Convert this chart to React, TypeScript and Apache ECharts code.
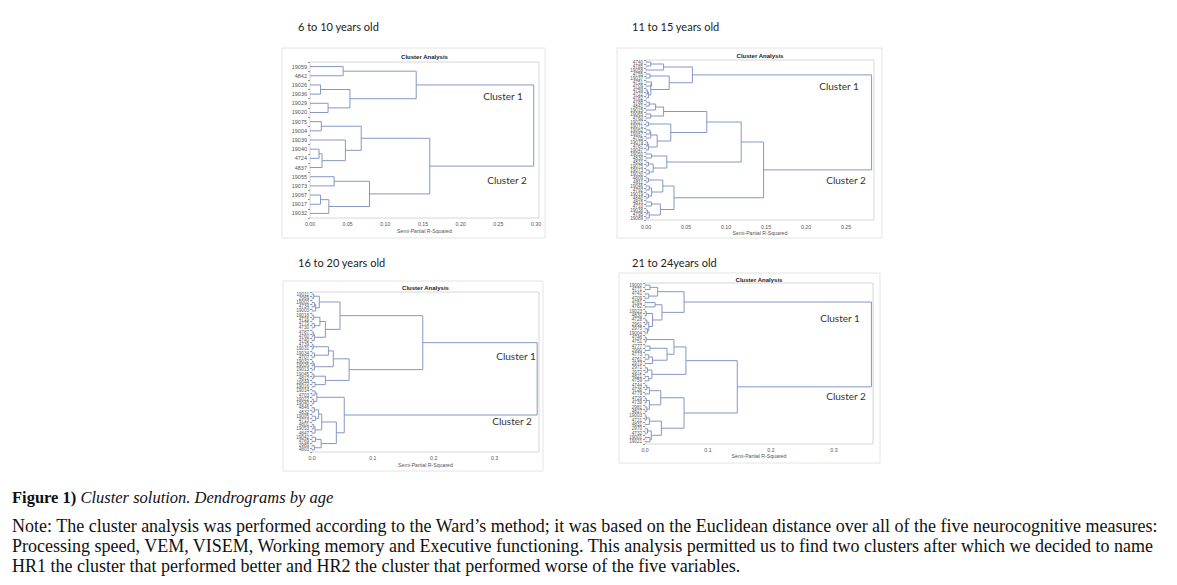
import React, { useEffect, useRef } from 'react';
import * as echarts from 'echarts';

type Node = [Node | number, Node | number, number];

// ---------- DATA ----------
const panelTitles = ['6 to 10 years old', '11 to 15 years old', '16 to 20 years old', '21 to 24years old'];
const chartTitle = 'Cluster Analysis';
const xAxisName = 'Semi-Partial R-Squared';
const clusterNames = ['Cluster 1', 'Cluster 2'];

const leaves1 = ['19059', '4842', '19026', '19036', '19029', '19020', '19075', '19004', '19039', '19040', '4724', '4837', '19055', '19073', '19067', '19017', '19032'];
const tree1: Node = [
  [[0, 1, 0.044], [[2, 3, 0.014], [4, 5, 0.024], 0.053], 0.141],
  [
    [[6, 7, 0.015], [8, [[9, 10, 0.012], 11, 0.016], 0.047], 0.068],
    [[12, 13, 0.032], [[14, 15, 0.014], 16, 0.025], 0.079],
    0.159,
  ],
  0.297,
];

const leaves2 = ['4740', '4785', '19058', '4755', '19037', '4751', '4709', '4759', '4722', '4782', '4788', '4841', '19015', '19065', '4760', '19027', '19071', '19062', '19067', '4705', '19079', '4787', '19047', '19050', '4830', '4831', '19075', '19073', '19030', '4809', '4811', '19046', '4792', '19019', '4840', '4815', '4710', '19038', '4795', '19089'];
const tree2: Node = [
  [[[0, 1, 0.006], 2, 0.022], [[3, 4, 0.005], [[5, 6, 0.007], [[7, 8, 0.002], 9, 0.003], 0.006], 0.029], 0.058],
  [
    [
      [
        [[[10, 11, 0.004], 12, 0.012], [13, 14, 0.006], 0.022],
        [[15, 16, 0.003], [[[17, 18, 0.005], 19, 0.006], [[20, 21, 0.002], 22, 0.003], 0.014], 0.031],
        0.076,
      ],
      [[23, 24, 0.007], [[25, 26, 0.003], [27, 28, 0.004], 0.009], 0.026],
      0.119,
    ],
    [
      [[29, 30, 0.003], [[31, 32, 0.004], [33, 34, 0.003], 0.007], 0.021],
      [[35, 36, 0.007], [[37, 38, 0.002], 39, 0.004], 0.018],
      0.035,
    ],
    0.147,
  ],
  0.282,
];

const leaves3 = ['19011', '2969', '19002', '4734', '19003', '19018', '4716', '4775', '4730', '4787', '4760', '4740', '4739', '19031', '19034', '4707', '19032', '19026', '19013', '19045', '4812', '19044', '19016', '19014', '4703', '19022', '19040', '4846', '4832', '19005', '4713', '4801', '19053', '4847', '19042', '4769', '2989', '4803'];
const tree3: Node = [
  [
    [
      [[0, 1, 0.003], [[2, 3, 0.004], 4, 0.006], 0.012],
      [[[5, 6, 0.003], [7, 8, 0.004], 0.013], [[9, 10, 0.002], 11, 0.004], 0.022],
      0.046,
    ],
    [
      [[[12, 13, 0.002], [14, 15, 0.004], 0.027], [[16, 17, 0.002], 18, 0.004], 0.035],
      [[19, 20, 0.003], [21, 22, 0.005], 0.022],
      0.061,
    ],
    0.182,
  ],
  [
    [[23, 24, 0.005], [25, 26, 0.003], 0.008],
    [
      [[[27, 28, 0.004], [29, 30, 0.006], 0.011], [[31, 32, 0.003], 33, 0.005], 0.016],
      [[34, 35, 0.006], [36, 37, 0.004], 0.015],
      0.04,
    ],
    0.053,
  ],
  0.37,
];

const leaves4 = ['19000', '4771', '4741', '4709', '4781', '4762', '19023', '4830', '4728', '2961', '2975', '19004', '4746', '4751', '4777', '2990', '4773', '4761', '2973', '2971', '2972', '4821', '4759', '4744', '4736', '4779', '4729', '4739', '2981', '4827', '19003', '4721', '4831', '2970', '4732', '19001', '19021'];
const tree4: Node = [
  [
    [[0, 1, 0.008], [2, 3, 0.006], 0.02],
    [[4, 5, 0.016], [[6, 7, 0.002], [[8, 9, 0.003], [10, 11, 0.004], 0.006], 0.012], 0.027],
    0.062,
  ],
  [
    [
      [[12, 13, 0.002], [[14, 15, 0.008], [[16, 17, 0.006], 18, 0.012], 0.035], 0.046],
      [[19, 20, 0.004], [21, 22, 0.006], 0.011],
      0.065,
    ],
    [
      [[[23, 24, 0.003], 25, 0.007], [[26, 27, 0.002], [28, 29, 0.003], 0.007], 0.025],
      [[[30, 31, 0.002], 32, 0.007], [[33, 34, 0.004], [35, 36, 0.008], 0.01], 0.026],
      0.062,
    ],
    0.1465,
  ],
  0.3595,
];

const xMaxes = [0.304, 0.285, 0.373, 0.362];
const xSteps = [0.05, 0.05, 0.1, 0.1];
const xDecimals = [2, 2, 1, 1];

const captionLabel = 'Figure 1)';
const captionText = ' Cluster solution. Dendrograms by age';
const noteLines = [
  'Note: The cluster analysis was performed according to the Ward\u2019s method; it was based on the Euclidean distance over all of the five neurocognitive measures:',
  'Processing speed, VEM, VISEM, Working memory and Executive functioning. This analysis permitted us to find two clusters after which we decided to name',
  'HR1 the cluster that performed better and HR2 the cluster that performed worse of the five variables.',
];

// ---------- LAYOUT ----------
const panels = [
  { leaves: leaves1, tree: tree1, grid: { left: 310, top: 62, width: 229, height: 156 }, frame: [282, 48, 263, 190], titlePos: [298, 26], caTitleY: 57, labelSize: 5.5, labelMargin: 3, nameGap: 10, cl: [[503, 96], [507, 180]] },
  { leaves: leaves2, tree: tree2, grid: { left: 646, top: 60, width: 228, height: 160 }, frame: [617, 48, 265, 190], titlePos: [632, 26], caTitleY: 56, labelSize: 4.6, labelMargin: 4, nameGap: 10, cl: [[839, 86], [846, 180]] },
  { leaves: leaves3, tree: tree3, grid: { left: 312, top: 292, width: 227, height: 160 }, frame: [283, 281, 260, 190], titlePos: [298, 262], caTitleY: 288, labelSize: 4.6, labelMargin: 3, nameGap: 10, cl: [[516, 356], [512, 421]] },
  { leaves: leaves4, tree: tree4, grid: { left: 645, top: 283, width: 228, height: 161 }, frame: [619, 273, 261, 190], titlePos: [632, 262], caTitleY: 280, labelSize: 4.6, labelMargin: 3, nameGap: 9, cl: [[840, 318], [846, 396]] },
];

const LINE = '#8497c4';

function flatten(tree: Node): number[][] {
  const segs: number[][] = [];
  const walk = (n: Node | number): [number, number] => {
    if (typeof n === 'number') return [0, n];
    const a = walk(n[0]);
    const b = walk(n[1]);
    segs.push([a[0], a[1], b[0], b[1], n[2]]);
    return [n[2], (a[1] + b[1]) / 2];
  };
  walk(tree);
  return segs;
}

export default function App() {
  const ref = useRef<HTMLDivElement>(null);
  useEffect(() => {
    if (!ref.current) return;
    const chart = echarts.init(ref.current, undefined, { renderer: 'svg' });
    const grid: any[] = [];
    const xAxis: any[] = [];
    const yAxis: any[] = [];
    const series: any[] = [];
    const graphic: any[] = [];

    panels.forEach((p, i) => {
      grid.push({ ...p.grid, show: true, borderColor: '#d6d6d6', borderWidth: 1, backgroundColor: 'transparent' });
      const step = xSteps[i];
      const dec = xDecimals[i];
      xAxis.push({
        type: 'value', gridIndex: i, min: 0, max: xMaxes[i], interval: step,
        splitLine: { show: false }, axisLine: { show: false }, axisTick: { show: false },
        axisLabel: {
          fontSize: 5.2, color: '#555', margin: p.labelMargin,
          formatter: (v: number) => { const k = v / step; return Math.abs(k - Math.round(k)) < 1e-6 ? v.toFixed(dec) : ''; },
        },
        name: xAxisName, nameLocation: 'middle', nameGap: p.nameGap,
        nameTextStyle: { fontSize: 5.2, color: '#555' },
      });
      yAxis.push({
        type: 'category', gridIndex: i, data: p.leaves, inverse: true, boundaryGap: true,
        axisLine: { show: false },
        axisTick: { show: true, length: 2, lineStyle: { color: '#999' } },
        axisLabel: { interval: 0, fontSize: p.labelSize, color: '#555', margin: 3 },
        splitLine: { show: false },
      });
      yAxis.push({
        type: 'value', gridIndex: i, show: false, inverse: true,
        min: -0.5, max: p.leaves.length - 0.5, splitLine: { show: false },
      });
      series.push({
        type: 'custom', xAxisIndex: i, yAxisIndex: 2 * i + 1,
        data: flatten(p.tree),
        encode: { x: [0, 2, 4], y: [1, 3] },
        renderItem: (_params: any, api: any) => {
          const x1 = api.value(0), y1 = api.value(1), x2 = api.value(2), y2 = api.value(3), h = api.value(4);
          const a = api.coord([x1, y1]);
          const b = api.coord([h, y1]);
          const c = api.coord([h, y2]);
          const d = api.coord([x2, y2]);
          return {
            type: 'polyline',
            shape: { points: [a, b, c, d] },
            style: { stroke: LINE, lineWidth: 1, fill: null },
          };
        },
      });

      graphic.push({
        type: 'rect', shape: { x: p.frame[0], y: p.frame[1], width: p.frame[2], height: p.frame[3] },
        style: { fill: 'none', stroke: '#e4e4e4', lineWidth: 1 }, silent: true,
      });
      graphic.push({
        type: 'text', x: p.titlePos[0], y: p.titlePos[1],
        style: { text: panelTitles[i], fontFamily: 'Lato', fontSize: 11, fill: '#222', verticalAlign: 'middle', textAlign: 'left' },
      });
      graphic.push({
        type: 'text', x: p.grid.left + p.grid.width / 2, y: p.caTitleY,
        style: { text: chartTitle, fontFamily: 'Liberation Sans', fontWeight: 'bold', fontSize: 6, fill: '#222', verticalAlign: 'middle', textAlign: 'center' },
      });
      p.cl.forEach((pos, k) => {
        graphic.push({
          type: 'text', x: pos[0], y: pos[1],
          style: { text: clusterNames[k], fontFamily: 'Lato', fontSize: 10, fill: '#333', verticalAlign: 'middle', textAlign: 'center' },
        });
      });
    });

    graphic.push({
      type: 'text', x: 12, y: 497,
      style: {
        text: '{b|' + captionLabel + '}{i|' + captionText + '}',
        verticalAlign: 'middle', textAlign: 'left',
        rich: {
          b: { fontFamily: 'Liberation Serif', fontWeight: 'bold', fontSize: 16.5, fill: '#111' },
          i: { fontFamily: 'Liberation Serif', fontStyle: 'italic', fontSize: 16.5, fill: '#111' },
        },
      },
    });
    noteLines.forEach((t, k) => {
      graphic.push({
        type: 'text', x: 12, y: 526 + k * 20,
        style: { text: t, fontFamily: 'Liberation Serif', fontSize: 18, fill: '#111', verticalAlign: 'middle', textAlign: 'left' },
      });
    });

    chart.setOption({
      animation: false,
      backgroundColor: '#ffffff',
      textStyle: { fontFamily: 'Liberation Sans' },
      grid, xAxis, yAxis, series, graphic,
    });
    return () => chart.dispose();
  }, []);
  return <div ref={ref} style={{ position: 'fixed', left: 0, top: 0, width: 1177, height: 585, background: '#fff' }} />;
}
